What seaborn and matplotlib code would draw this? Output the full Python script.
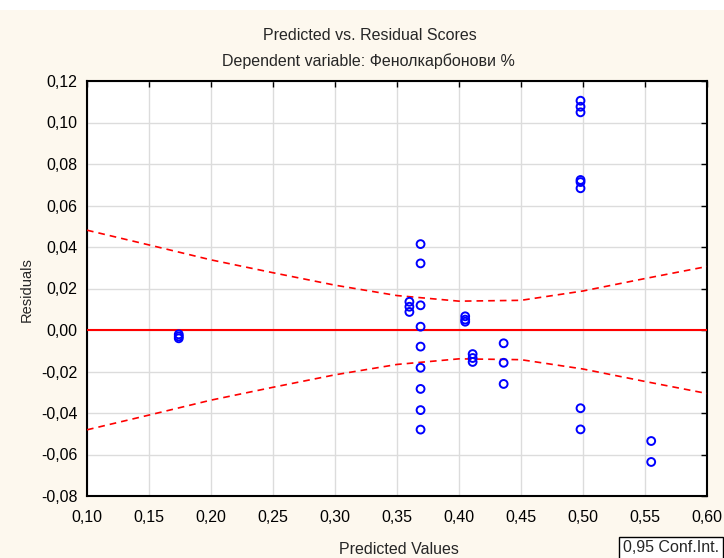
import numpy as np
import pandas as pd
import matplotlib
matplotlib.use("Agg")
import matplotlib.pyplot as plt
import seaborn as sns
from matplotlib.patches import Rectangle

# ---- data ----
predicted = [0.174, 0.174, 0.174,
             0.360, 0.360, 0.360,
             0.369, 0.369, 0.369, 0.369, 0.369, 0.369, 0.369, 0.369, 0.369,
             0.405, 0.405, 0.405,
             0.411, 0.411, 0.411,
             0.436, 0.436, 0.436,
             0.498, 0.498, 0.498, 0.498, 0.498, 0.498, 0.498, 0.498,
             0.555, 0.555]
residuals = [-0.0021, -0.0031, -0.0040,
             0.0136, 0.0112, 0.0087,
             0.0414, 0.0321, 0.0119, 0.0016, -0.0080, -0.0182, -0.0284, -0.0386, -0.0480,
             0.0066, 0.0050, 0.0040,
             -0.0116, -0.0135, -0.0154,
             -0.0064, -0.0158, -0.0260,
             0.1105, 0.1076, 0.1049, 0.0723, 0.0713, 0.0683, -0.0377, -0.0479,
             -0.0535, -0.0636]

# 95% confidence band half-width (read at x gridlines)
band_x = [0.10, 0.15, 0.20, 0.25, 0.30, 0.35, 0.40, 0.45, 0.50, 0.55, 0.60]
band_hw = [0.0481, 0.0410, 0.0338, 0.0276, 0.0216, 0.0166, 0.0139, 0.0143, 0.0188, 0.0248, 0.0306]

xticks = [0.10, 0.15, 0.20, 0.25, 0.30, 0.35, 0.40, 0.45, 0.50, 0.55, 0.60]
yticks = [-0.08, -0.06, -0.04, -0.02, 0.00, 0.02, 0.04, 0.06, 0.08, 0.10, 0.12]

title1 = "Predicted vs. Residual Scores"
title2 = "Dependent variable: Фенолкарбонови %"
xlabel = "Predicted Values"
ylabel = "Residuals"
legend_text = "0,95 Conf.Int."

sns.set_style("white")
plt.rcParams['font.family'] = ['Liberation Sans', 'DejaVu Sans']

cream = "#FDF8EE"
W, H = 724, 558
fig = plt.figure(figsize=(W / 100, H / 100), dpi=100, facecolor=cream)
fig.patches.append(Rectangle((0, 1 - 10 / H), 1, 10 / H, transform=fig.transFigure,
                             facecolor="white", edgecolor="none", zorder=0))

ax = fig.add_axes([87 / W, 1 - 496 / H, (707 - 87) / W, (496 - 81) / H])
ax.set_facecolor("white")

df = pd.DataFrame({"pred": predicted, "res": residuals})
band = pd.DataFrame({"x": band_x, "up": band_hw, "lo": [-v for v in band_hw]})

ax.axhline(0, color="#FF0000", lw=1.5, zorder=3)
sns.lineplot(data=band, x="x", y="up", ax=ax, color="#FF0000", lw=1.2,
             linestyle=(0, (4, 3)), zorder=3)
sns.lineplot(data=band, x="x", y="lo", ax=ax, color="#FF0000", lw=1.2,
             linestyle=(0, (4, 3)), zorder=3)
sns.scatterplot(data=df, x="pred", y="res", ax=ax, marker="o", s=32,
                facecolors="none", edgecolor="#0000FF", linewidth=1.4, zorder=4)

ax.set_xlim(0.10, 0.60)
ax.set_ylim(-0.08, 0.12)
ax.set_xticks(xticks)
ax.set_yticks(yticks)
ax.set_xticklabels([f"{v:.2f}".replace(".", ",") for v in xticks])
ax.set_yticklabels([f"{v:.2f}".replace(".", ",").replace("-0,00", "0,00") for v in yticks])
ax.grid(True, color="#DCDCDC", lw=1.0)
ax.set_axisbelow(True)
ax.tick_params(direction="in", length=4, width=1, top=True, right=True,
               labelsize=11.5, colors="black")
ax.tick_params(axis="x", pad=10)
ax.tick_params(axis="y", pad=7)
for s in ax.spines.values():
    s.set_visible(True)
    s.set_color("black")
    s.set_linewidth(1.5)

ax.set_xlabel("")
ax.set_ylabel("")
fig.text(399 / W, 1 - 549 / H, xlabel, ha="center", va="center", fontsize=11.5)
fig.text(27 / W, 1 - 290 / H, ylabel, ha="center", va="center", rotation=90, fontsize=10.5)
fig.text(370 / W, 1 - 35 / H, title1, ha="center", va="center", fontsize=11.5)
fig.text(368 / W, 1 - 61 / H, title2, ha="center", va="center", fontsize=11.5)
fig.text(623 / W, 1 - 548 / H, legend_text, ha="left", va="center", fontsize=11.5,
         bbox=dict(boxstyle="square,pad=0.25", facecolor="white", edgecolor="black", lw=1))

fig.savefig("out.png", dpi=100, facecolor=cream)
